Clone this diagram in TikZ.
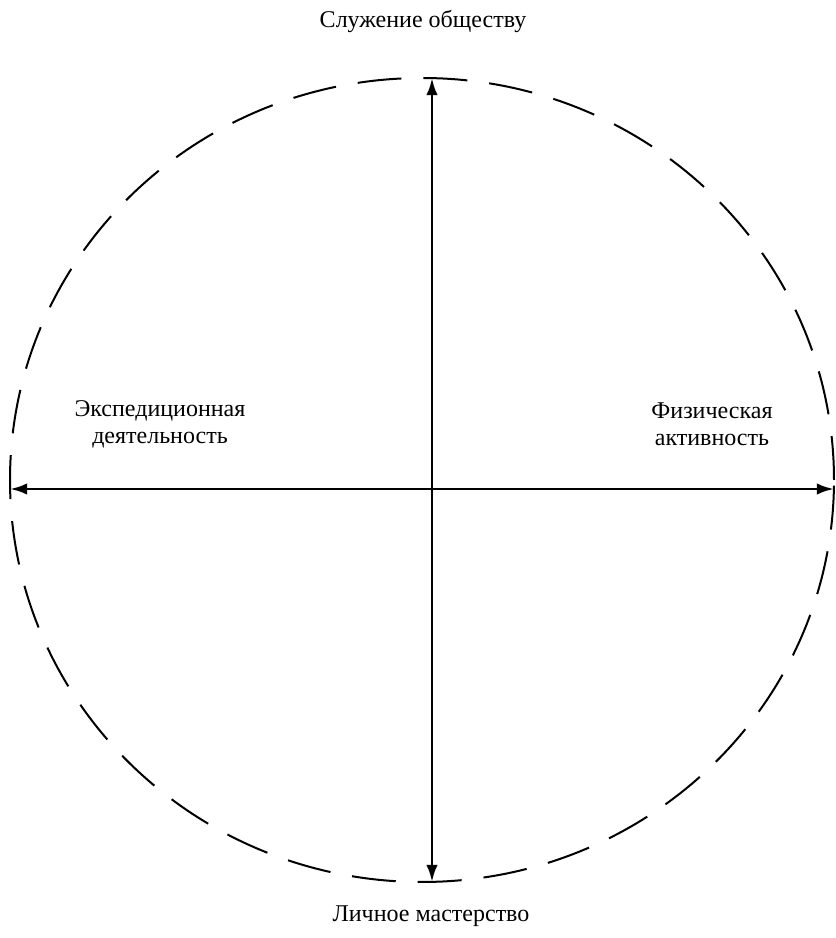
\documentclass[tikz,border=0pt]{standalone}
\usepackage{fontspec}
\setmainfont{Liberation Serif}
\usepackage{tikz}
\usetikzlibrary{arrows.meta,positioning}

\begin{document}
\begin{tikzpicture}[x=0.5pt,y=0.5pt,every node/.style={font=\fontsize{12}{13.5}\selectfont,align=center},rim/.style={line width=1pt,dash pattern=on 22 off 11},axis/.style={{Latex[length=3mm,width=2mm]}-{Latex[length=3mm,width=2mm]},line width=1.4pt}]
\useasboundingbox (0,0) rectangle (836,938);
\draw[rim] (422,458) ellipse [x radius=412,y radius=402];
\coordinate (n) at (432,860);
\coordinate (s) at (432,56);
\coordinate (w) at (10,449);
\coordinate (e) at (834,449);
\draw[axis] (s)--(n); \draw[axis] (w)--(e);
\node (top) at (423,916) {Служение обществу};
\node (bottom) at (431,22) {Личное мастерство};
\node (left) at (160,514) {Экспедиционная\\деятельность};
\node (right) at (712,514) {Физическая\\активность};
\end{tikzpicture}
\end{document}
